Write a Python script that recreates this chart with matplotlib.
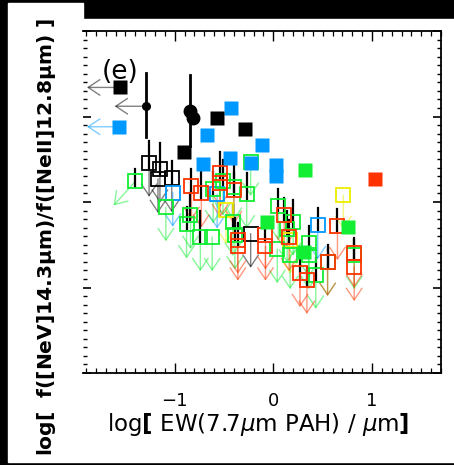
import numpy as np
import matplotlib
matplotlib.use("Agg")
import matplotlib.pyplot as plt
from matplotlib.patches import Rectangle
from matplotlib.ticker import MultipleLocator

plt.rcParams['font.family'] = ['DejaVu Sans']

# ---- filled symbols (detections) ----
blk_sq_x = [-1.55, -0.91, -0.57, -0.29]
blk_sq_y = [0.34, -0.42, -0.02, -0.15]
blk_ci_x = [-1.29, -0.84, -0.81]
blk_ci_y = [0.12, 0.06, -0.02]
blk_ci_eu = [0.39, 0.43, 0.0]
blk_ci_ed = [0.36, 0.41, 0.0]
blu_sq_x = [-1.57, -0.43, -0.67, -0.12, -0.71, -0.44, -0.23, 0.03, 0.03]
blu_sq_y = [-0.12, 0.10, -0.22, -0.33, -0.55, -0.49, -0.54, -0.57, -0.70]
grn_sq_x = [0.32, -0.06, 0.76, 0.31]
grn_sq_y = [-0.63, -1.23, -1.29, -1.58]
red_sq_x = [1.03]
red_sq_y = [-0.73]

# ---- open symbols (upper limits), eu = upper black error bar ----
ob_blk_x = [-1.26, -1.15, -1.17, -1.03, -0.23]
ob_blk_y = [-0.54, -0.61, -0.73, -0.72, -1.37]
ob_blk_eu = [0.25, 0.30, 0.0, 0.2, 0.0]
ob_blu_x = [-1.02, -0.57, 0.45]
ob_blu_y = [-0.89, -0.91, -1.27]
ob_blu_eu = [0.0, 0.0, 0.2]
ob_yel_x = [0.71, -0.48, 0.17]
ob_yel_y = [-0.92, -1.09, -1.44]
ob_yel_eu = [0.0, 0.0, 0.0]
ob_grn_x = [-1.09, -0.84, -0.88, -0.74, -0.62, -0.61, -0.51, -0.40, -0.27,
            -0.23, -0.41, -0.39, 0.05, 0.04, 0.20, 0.14, 0.17, 0.36, 0.36,
            0.43, 0.55, 0.82]
ob_grn_y = [-1.06, -1.15, -1.26, -1.41, -1.41, -0.85, -0.76, -0.82, -0.91,
            -0.53, -1.23, -1.39, -1.05, -1.55, -1.23, -1.31, -1.62, -1.48, -1.62,
            -1.85, -1.70, -1.62]
ob_grn_eu = [0.0, 0.25, 0.2, 0.3, 0.0, 0.2, 0.25, 0.25, 0.25,
             0.0, 0.2, 0.2, 0.2, 0.0, 0.25, 0.2, 0.0, 0.2, 0.0,
             0.2, 0.2, 0.2]
ob_red_x = [-0.83, -0.73, -0.54, -0.54, -0.40, -0.36, -0.36, -0.08, -0.08,
            0.11, 0.16, 0.27, 0.34, 0.65, 0.55, 0.82, 0.82]
ob_red_y = [-0.81, -0.90, -0.66, -0.78, -0.86, -1.44, -1.52, -1.39, -1.52,
            -1.15, -1.41, -1.83, -1.91, -1.28, -1.70, -1.76, -1.60]
ob_red_eu = [0.2, 0.25, 0.25, 0.0, 0.2, 0.2, 0.0, 0.2, 0.0,
             0.2, 0.2, 0.15, 0.15, 0.2, 0.15, 0.0, 0.15]
# green point with a diagonal (two-sided) limit
diag_x = [-1.40]
diag_y = [-0.76]

BLUE = '#0099ff'
GREEN = '#11ee33'
RED = '#ff3300'
YEL = '#eeee00'

fig = plt.figure(figsize=(4.54, 4.65), dpi=100, facecolor='black')
W, H = 454.0, 465.0
fig.add_artist(Rectangle((8 / W, 1 - 462 / H), 75 / W, 459 / H,
                         transform=fig.transFigure, color='white', zorder=0))
fig.add_artist(Rectangle((83 / W, 1 - 462 / H), 371 / W, 443 / H,
                         transform=fig.transFigure, color='white', zorder=0))

ax = fig.add_axes([83 / W, 1 - 373 / H, 358 / W, 342 / H])
ax.set_facecolor('white')
ax.set_xlim(-1.93, 1.70)
ax.set_ylim(-3, 1)

arrow_style = '->,head_length=0.6,head_width=0.4'


def arrows(xs, ys, color, dx, dy):
    for x, y in zip(xs, ys):
        ax.annotate('', xy=(x + dx, y + dy), xytext=(x, y),
                    arrowprops=dict(arrowstyle=arrow_style, color=color, alpha=0.5,
                                    lw=1.0, shrinkA=0, shrinkB=0, mutation_scale=14),
                    zorder=1)


def errs(xs, ys, eu):
    for x, y, e in zip(xs, ys, eu):
        if e > 0:
            ax.plot([x, x], [y - 0.06, y + e], color='black', lw=1.6, zorder=3)


open_groups = [
    (ob_blk_x, ob_blk_y, ob_blk_eu, 'black'),
    (ob_blu_x, ob_blu_y, ob_blu_eu, BLUE),
    (ob_yel_x, ob_yel_y, ob_yel_eu, YEL),
    (ob_grn_x, ob_grn_y, ob_grn_eu, GREEN),
    (ob_red_x, ob_red_y, ob_red_eu, RED),
]
for gx, gy, geu, col in open_groups:
    arrows(gx, gy, col, 0, -0.4)
arrows(diag_x, diag_y, GREEN, -0.22, -0.28)
for gx, gy, geu, col in open_groups:
    errs(gx, gy, geu)
    ax.plot(gx, gy, 's', ms=9.5, mfc='none', mec=col, mew=1.3, zorder=4)
ax.plot(diag_x, diag_y, 's', ms=9.5, mfc='none', mec=GREEN, mew=1.3, zorder=4)
errs(diag_x, diag_y, [0.15])

# left-pointing limits for the first point of black sq, black circle, blue sq
arrows(blk_sq_x[:1], blk_sq_y[:1], 'black', -0.34, 0)
arrows(blk_ci_x[:1], blk_ci_y[:1], 'black', -0.32, 0)
arrows(blu_sq_x[:1], blu_sq_y[:1], BLUE, -0.32, 0)

# error bars of black circles
for x, y, eu, ed in zip(blk_ci_x, blk_ci_y, blk_ci_eu, blk_ci_ed):
    if eu > 0:
        ax.plot([x, x], [y - ed, y + eu], color='black', lw=2.0, zorder=5)

ax.plot(blu_sq_x, blu_sq_y, 's', ms=10, color=BLUE, mec='none', zorder=6)
ax.plot(grn_sq_x, grn_sq_y, 's', ms=10, color=GREEN, mec='none', zorder=6)
ax.plot(red_sq_x, red_sq_y, 's', ms=10, color=RED, mec='none', zorder=6)
ax.plot(blk_sq_x, blk_sq_y, 's', ms=10, color='black', mec='none', zorder=6)
ax.plot(blk_ci_x[:1], blk_ci_y[:1], 'o', ms=5.5, color='black', zorder=6)
ax.plot(blk_ci_x[1:], blk_ci_y[1:], 'o', ms=9, color='black', zorder=6)

ax.text(-1.55, 0.52, '(e)', fontsize=19, ha='center', va='center', zorder=7)

# axes styling
ax.spines['left'].set_visible(False)
for s in ['top', 'bottom', 'right']:
    ax.spines[s].set_linewidth(1.3)
ax.xaxis.set_major_locator(MultipleLocator(1))
ax.xaxis.set_minor_locator(MultipleLocator(0.1))
ax.yaxis.set_major_locator(MultipleLocator(1))
ax.yaxis.set_minor_locator(MultipleLocator(0.1))
ax.tick_params(axis='x', which='both', direction='in', top=True, bottom=True)
ax.tick_params(axis='x', which='major', length=7, width=1.0, pad=14, labelsize=13)
ax.tick_params(axis='x', which='minor', length=3.5, width=0.9)
ax.tick_params(axis='y', which='both', direction='in', left=True, right=True,
               labelleft=False)
ax.tick_params(axis='y', which='major', length=6, width=1.2)
ax.tick_params(axis='y', which='minor', length=3, width=1.0)
ax.set_xticks([-1, 0, 1])
ax.set_xticklabels(['\u22121', '0', '1'])

fig.text(258 / W, 1 - 424 / H, r'log$\mathbf{[}$ EW(7.7$\mu$m PAH) / $\mu$m$\mathbf{]}$',
         fontsize=16.5, ha='center', va='center')
fig.text(47 / W, 1 - 237 / H,
         r'log[  f([NeV]14.3$\mathbf{\mu}$m)/f([NeII]12.8$\mathbf{\mu}$m) ]',
         fontsize=14.6, ha='center', va='center', rotation=90, fontweight='bold')

fig.savefig('out.png', dpi=100, facecolor='black')
